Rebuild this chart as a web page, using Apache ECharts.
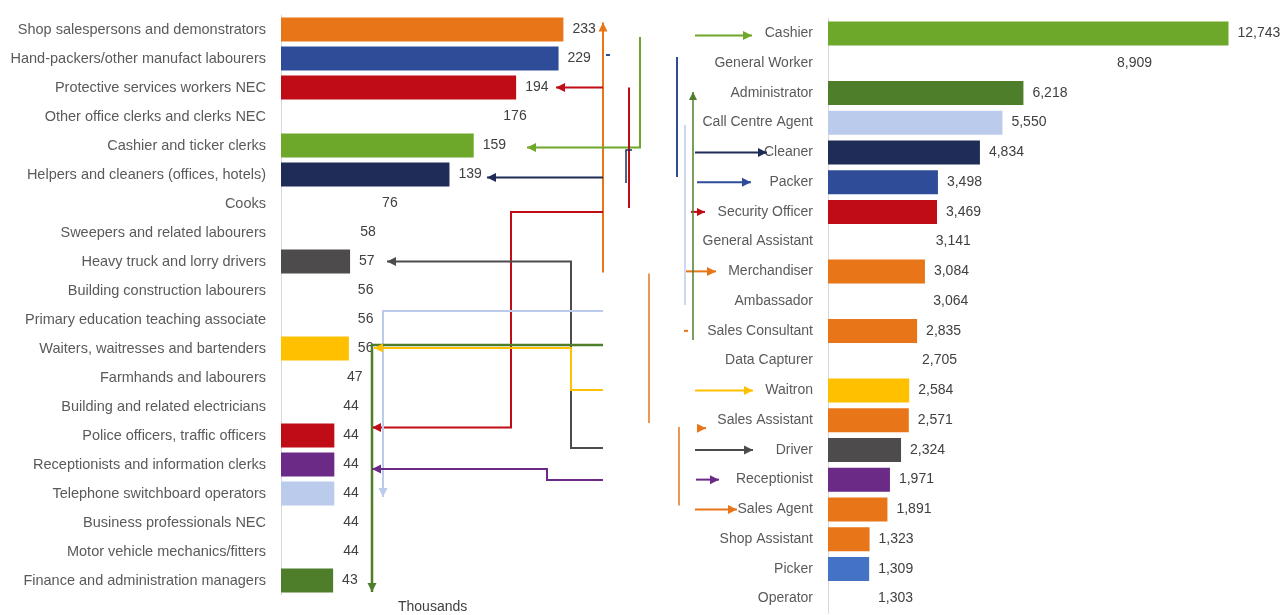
<!DOCTYPE html>
<html>
<head>
<meta charset="utf-8">
<script src="https://cdn.jsdelivr.net/npm/echarts@6/dist/echarts.min.js"></script>
<style>
html, body { margin: 0; padding: 0; background: #fff; }
#chart { width: 1285px; height: 615px; }
</style>
</head>
<body>
<div id="chart"></div>
<script>
// left panel: occupations (thousands)
const occupations = [
    'Shop salespersons and demonstrators',
    'Hand-packers/other manufact labourers',
    'Protective services workers NEC',
    'Other office clerks and clerks NEC',
    'Cashier and ticker clerks',
    'Helpers and cleaners (offices, hotels)',
    'Cooks',
    'Sweepers and related labourers',
    'Heavy truck and lorry drivers',
    'Building construction labourers',
    'Primary education teaching associate',
    'Waiters, waitresses and bartenders',
    'Farmhands and labourers',
    'Building and related electricians',
    'Police officers, traffic officers',
    'Receptionists and information clerks',
    'Telephone switchboard operators',
    'Business professionals NEC',
    'Motor vehicle mechanics/fitters',
    'Finance and administration managers'
]
const occupationValues = [233, 229, 194, 176, 159, 139, 76, 58, 57, 56, 56, 56, 47, 44, 44, 44, 44, 44, 44, 43]

// right panel: job titles
const jobTitles = [
    'Cashier', 'General Worker', 'Administrator', 'Call Centre Agent', 'Cleaner',
    'Packer', 'Security Officer', 'General Assistant', 'Merchandiser', 'Ambassador',
    'Sales Consultant', 'Data Capturer', 'Waitron', 'Sales Assistant', 'Driver',
    'Receptionist', 'Sales Agent', 'Shop Assistant', 'Picker', 'Operator'
]
const jobValues = [12743, 8909, 6218, 5550, 4834, 3498, 3469, 3141, 3084, 3064,
    2835, 2705, 2584, 2571, 2324, 1971, 1891, 1323, 1309, 1303]

const C = {
    orange: '#E97519',
    blue: '#2E4C97',
    red: '#C00C16',
    green: '#6EA82A',
    navy: '#1F2C58',
    grey: '#4D4B4B',
    yellow: '#FFC000',
    purple: '#6A2A86',
    sky: '#BACBEB',
    dgreen: '#4F7E2B',
    picker: '#4472C4'
}

// which rows get a coloured bar (others are blank)
const occupationColour = {
    'Shop salespersons and demonstrators': C.orange,
    'Hand-packers/other manufact labourers': C.blue,
    'Protective services workers NEC': C.red,
    'Cashier and ticker clerks': C.green,
    'Helpers and cleaners (offices, hotels)': C.navy,
    'Heavy truck and lorry drivers': C.grey,
    'Waiters, waitresses and bartenders': C.yellow,
    'Police officers, traffic officers': C.red,
    'Receptionists and information clerks': C.purple,
    'Telephone switchboard operators': C.sky,
    'Finance and administration managers': C.dgreen
}
const jobColour = {
    'Cashier': C.green,
    'Administrator': C.dgreen,
    'Call Centre Agent': C.sky,
    'Cleaner': C.navy,
    'Packer': C.blue,
    'Security Officer': C.red,
    'Merchandiser': C.orange,
    'Sales Consultant': C.orange,
    'Waitron': C.yellow,
    'Sales Assistant': C.orange,
    'Driver': C.grey,
    'Receptionist': C.purple,
    'Sales Agent': C.orange,
    'Shop Assistant': C.orange,
    'Picker': C.picker
}

const font = '"Liberation Sans", Arial, sans-serif'
const fmt = v => v.toLocaleString('en-US')

function barSeries(idx, cats, vals, colours) {
    return {
        type: 'bar',
        xAxisIndex: idx,
        yAxisIndex: idx,
        barWidth: 24,
        silent: true,
        data: vals.map((v, i) => ({
            value: v,
            itemStyle: {color: colours[cats[i]] || 'rgba(0,0,0,0)'}
        })),
        label: {
            show: true,
            position: 'right',
            distance: 9,
            color: '#404040',
            fontSize: 14,
            fontFamily: font,
            formatter: p => fmt(p.value)
        }
    }
}

function catAxis(idx, cats, size) {
    return {
        type: 'category',
        gridIndex: idx,
        data: cats,
        inverse: true,
        axisLine: {lineStyle: {color: '#D9D9D9'}},
        axisTick: {show: false},
        axisLabel: {color: '#5a5a5a', fontSize: size, fontFamily: font, margin: 15}
    }
}

const chart = echarts.init(document.getElementById('chart'))
chart.setOption({
    animation: false,
    grid: [
        {left: 281, top: 15, width: 303, height: 580},
        {left: 828, top: 18.5, width: 440, height: 595}
    ],
    xAxis: [
        {type: 'value', gridIndex: 0, min: 0, max: 250, show: false},
        {type: 'value', gridIndex: 1, min: 0, max: 14000, show: false}
    ],
    yAxis: [catAxis(0, occupations, 14.5), catAxis(1, jobTitles, 14)],
    series: [
        barSeries(0, occupations, occupationValues, occupationColour),
        barSeries(1, jobTitles, jobValues, jobColour)
    ]
})

// connector arrows between the two panels
const yL = i => chart.convertToPixel({yAxisIndex: 0}, i)
const yR = i => chart.convertToPixel({yAxisIndex: 1}, i)

const graphics = []
function line(points, color, w, head) {
    graphics.push({
        type: 'polyline', silent: true, z: 20,
        shape: {points: points},
        style: {stroke: color, lineWidth: w || 2, fill: null}
    })
    if (head) {
        const [x2, y2] = points[points.length - 1]
        const [x1, y1] = points[points.length - 2]
        const len = Math.hypot(x2 - x1, y2 - y1)
        const ux = (x2 - x1) / len, uy = (y2 - y1) / len
        const s = head === true ? 9 : head
        const bx = x2 - ux * s, by = y2 - uy * s
        graphics.push({
            type: 'polygon', silent: true, z: 21,
            shape: {points: [[x2, y2], [bx - uy * s * 0.5, by + ux * s * 0.5], [bx + uy * s * 0.5, by - ux * s * 0.5]]},
            style: {fill: color}
        })
    }
}

// shop salespersons -> sales jobs
line([[603, yR(8) + 1], [603, yL(0) - 7]], C.orange, 2, true)
line([[649, yR(8) + 2], [649, 423]], C.orange, 1.5)
line([[679, 427], [679, yR(16) - 4]], C.orange, 1.5)
line([[686, yR(8)], [716, yR(8)]], C.orange, 2, true)
line([[684, yR(10)], [688, yR(10)]], C.orange, 2)
line([[697, yR(13) + 8], [706, yR(13) + 8]], C.orange, 2, 9)
line([[695, yR(16)], [737, yR(16)]], C.orange, 2, true)

// cashiers
line([[695, yR(0) + 2], [752, yR(0) + 2]], C.green, 2, true)
line([[640, 37], [640, yL(4) + 2], [527, yL(4) + 2]], C.green, 2, true)

// protective services / police -> security officer
line([[603, yL(2)], [556, yL(2)]], C.red, 2, true)
line([[629, yL(2)], [629, 208]], C.red, 2)
line([[603, 212], [511, 212], [511, yL(14) - 8], [372, yL(14) - 8]], C.red, 2, true)
line([[691, yR(6)], [705, yR(6)]], C.red, 2, 8)

// helpers and cleaners -> cleaner
line([[603, yL(5) + 3], [487, yL(5) + 3]], C.navy, 2, true)
line([[632, 150], [626, 150], [626, 183]], C.navy, 1.5)
line([[695, yR(4)], [767, yR(4)]], C.navy, 2, true)

// hand-packers -> packer
line([[606, 55], [610, 55]], C.blue, 2)
line([[677, 57], [677, 177]], C.blue, 2)
line([[697, yR(5)], [751, yR(5)]], C.blue, 2, true)

// truck drivers -> driver
line([[603, 448], [571, 448], [571, yL(8)], [387, yL(8)]], C.grey, 2, true)
line([[695, yR(14)], [753, yR(14)]], C.grey, 2, true)

// telephone operators -> call centre agent
line([[603, 311], [383, 311], [383, 497]], C.sky, 2, true)
line([[685, 125], [685, 305]], C.sky, 1.5)

// finance managers -> administrator
line([[603, 345], [372, 345], [372, 592]], C.dgreen, 2.5, true)
line([[693, 340], [693, 92]], C.dgreen, 1.5, 8)

// waiters -> waitron
line([[603, 390], [571, 390], [571, 348], [374, 348]], C.yellow, 2, true)
line([[695, yR(12)], [753, yR(12)]], C.yellow, 2, true)

// receptionists
line([[603, 480], [547, 480], [547, 469], [372, 469]], C.purple, 2, true)
line([[696, yR(15)], [719, yR(15)]], C.purple, 2, true)

graphics.push({
    type: 'text', silent: true, left: 398, top: 600,
    style: {text: 'Thousands', fill: '#404040', fontSize: 14, fontFamily: font}
})

chart.setOption({graphic: graphics})
</script>
</body>
</html>
